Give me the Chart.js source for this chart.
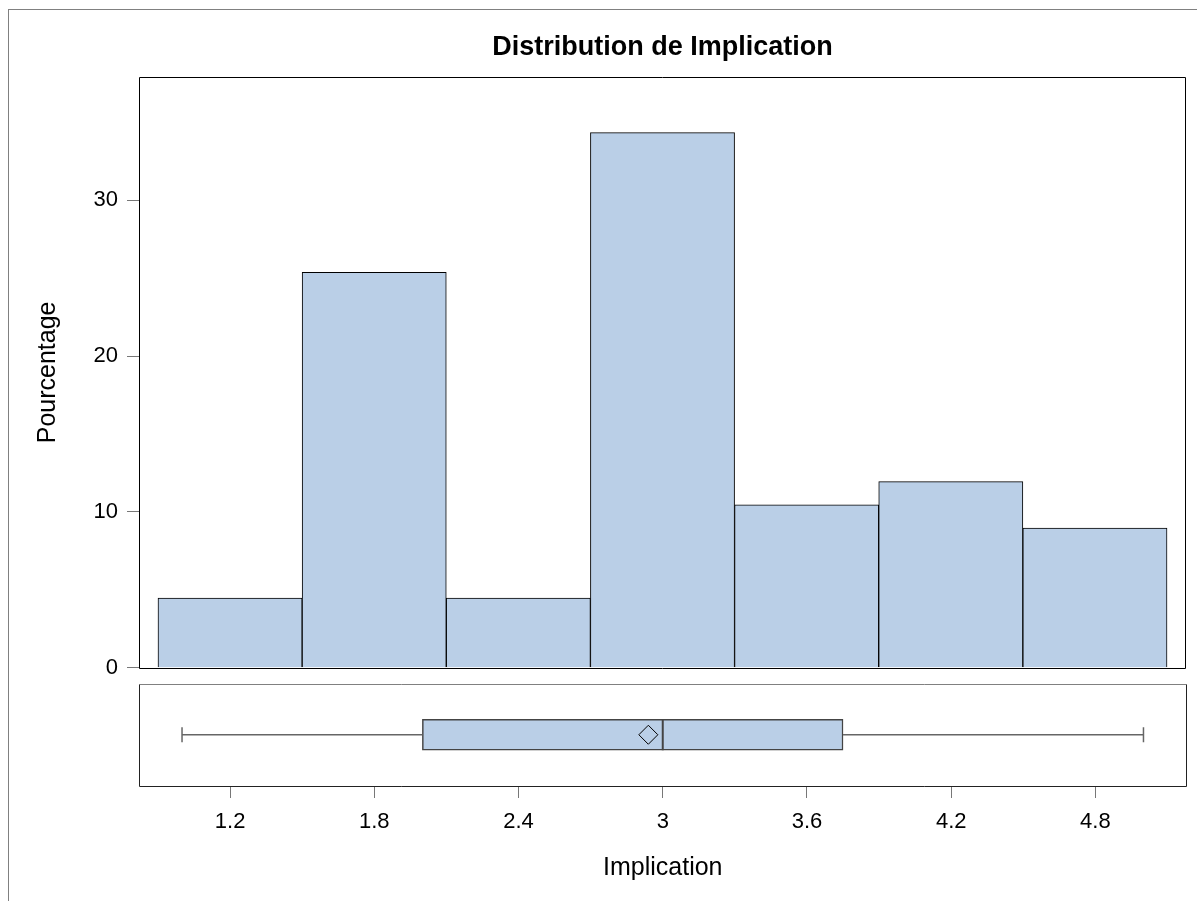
<!DOCTYPE html>
<html>
<head>
<meta charset="utf-8">
<script src="https://cdn.jsdelivr.net/npm/chart.js@4"></script>
<style>
  body { margin: 0; background: #fff; }
  #wrap { position: relative; width: 1197px; height: 901px; background: #fff; overflow: hidden; }
  #edge { position: absolute; left: 8px; top: 9px; right: 0; bottom: 0; border-top: 1px solid #808080; border-left: 1px solid #808080; }
  canvas { position: absolute; left: 0; }
  #hist { top: 0; }
  #box { top: 666px; }
</style>
</head>
<body>
<div id="wrap">
  <div id="edge"></div>
  <canvas id="hist" width="1197" height="690"></canvas>
  <canvas id="box" width="1204" height="235"></canvas>
</div>
<script>
// Histogram data (percent per bin, bins of width 0.6)
const BIN_MIDPOINTS = [1.2, 1.8, 2.4, 3.0, 3.6, 4.2, 4.8];
const PERCENTS = [4.48, 25.37, 4.48, 34.33, 10.45, 11.94, 8.96];
const Y_TICKS = [0, 10, 20, 30];
const X_TICKS = [1.2, 1.8, 2.4, 3, 3.6, 4.2, 4.8];

// Box plot: whisker low, Q1, median, Q3, whisker high, and mean
const BOX_FIVE = [1.0, 2.0, 3.0, 3.75, 5.0];
const BOX_MEAN = 2.94;

const X_MIN = 0.821, X_MAX = 5.179, Y_MAX = 37.9;

const TITLE = 'Distribution de Implication';
const FONT = '"Liberation Sans", Arial, sans-serif';
const FILL = '#BACFE7';

// frame around the plot area
const framePlugin = {
  id: 'frame',
  afterDraw(chart, args, opts) {
    const { left, top, right, bottom } = chart.chartArea;
    const ctx = chart.ctx;
    const l = Math.round(left) + 0.5, t = Math.round(top) + 0.5;
    const r = Math.round(right) - 0.5, b = Math.round(bottom) + 0.5;
    ctx.save();
    ctx.lineWidth = 1;
    ctx.strokeStyle = opts.topColor || '#000';
    ctx.beginPath(); ctx.moveTo(l, t); ctx.lineTo(r, t); ctx.stroke();
    ctx.strokeStyle = opts.color || '#000';
    ctx.beginPath();
    ctx.moveTo(l, t); ctx.lineTo(l, b); ctx.lineTo(r, b); ctx.lineTo(r, t);
    ctx.stroke();
    if (opts.title) {
      // title centred over the plot area, not the whole canvas
      ctx.fillStyle = '#000';
      ctx.font = 'bold 27px ' + FONT;
      ctx.textAlign = 'center';
      ctx.textBaseline = 'middle';
      ctx.fillText(opts.title, (left + right) / 2, 48);
    }
    ctx.restore();
  }
};

// Histogram
new Chart(document.getElementById('hist'), {
  type: 'bar',
  data: {
    datasets: [{
      data: BIN_MIDPOINTS.map((x, i) => ({ x: x, y: PERCENTS[i] })),
      backgroundColor: FILL,
      borderColor: '#000',
      borderWidth: 1,
      categoryPercentage: 1,
      barPercentage: 1
    }]
  },
  options: {
    responsive: false,
    animation: false,
    events: [],
    layout: { padding: { left: 0, right: 11, top: 77, bottom: 0 } },
    plugins: {
      legend: { display: false },
      tooltip: { enabled: false },
      title: { display: false },
      frame: { color: '#000', topColor: '#000', title: TITLE }
    },
    scales: {
      x: {
        type: 'linear',
        display: false,
        offset: false,
        grid: { offset: false },
        min: X_MIN,
        max: X_MAX,
        afterBuildTicks: s => { s.ticks = X_TICKS.map(v => ({ value: v })); }
      },
      y: {
        min: 0,
        max: Y_MAX,
        afterBuildTicks: s => { s.ticks = Y_TICKS.map(v => ({ value: v })); },
        afterFit: s => { s.width = 139; },
        border: { display: false },
        grid: { drawOnChartArea: false, drawTicks: true, tickLength: 12, color: '#777' },
        ticks: { color: '#000', padding: 9, font: { family: FONT, size: 22 } },
        title: {
          display: true,
          text: 'Pourcentage',
          color: '#000',
          font: { family: FONT, size: 25 },
          padding: { top: 33, bottom: 33 }
        }
      }
    }
  },
  plugins: [framePlugin]
});

// Box plot
const boxY = 0;
new Chart(document.getElementById('box'), {
  type: 'bar',
  data: {
    datasets: [
      {
        type: 'scatter',
        order: 0,
        data: [{ x: BOX_MEAN, y: boxY }],
        pointStyle: 'rectRot',
        pointRadius: 9.5,
        backgroundColor: 'rgba(0,0,0,0)',
        borderColor: '#000',
        borderWidth: 1
      },
      {
        type: 'scatter',
        order: 1,
        data: [{ x: BOX_FIVE[2], y: boxY }],
        pointStyle: 'line',
        rotation: 90,
        pointRadius: 15.5,
        borderColor: '#444',
        borderWidth: 2
      },
      {
        type: 'scatter',
        order: 2,
        data: [{ x: BOX_FIVE[0], y: boxY }, { x: BOX_FIVE[4], y: boxY }],
        pointStyle: 'line',
        rotation: 90,
        pointRadius: 7.5,
        borderColor: '#666',
        borderWidth: 1.5
      },
      {
        type: 'line',
        order: 3,
        data: [{ x: BOX_FIVE[0], y: boxY }, { x: BOX_FIVE[1], y: boxY }],
        pointRadius: 0,
        borderColor: '#666',
        borderWidth: 1.5
      },
      {
        type: 'line',
        order: 3,
        data: [{ x: BOX_FIVE[3], y: boxY }, { x: BOX_FIVE[4], y: boxY }],
        pointRadius: 0,
        borderColor: '#666',
        borderWidth: 1.5
      },
      {
        type: 'bar',
        order: 5,
        indexAxis: 'y',
        data: [{ x: [BOX_FIVE[1], BOX_FIVE[3]], y: boxY }],
        backgroundColor: FILL,
        borderColor: '#444',
        borderWidth: 1.5,
        borderSkipped: false,
        barThickness: 31
      }
    ]
  },
  options: {
    responsive: false,
    animation: false,
    events: [],
    layout: { padding: { left: 139, right: 0, top: 0, bottom: 0 } },
    plugins: {
      legend: { display: false },
      tooltip: { enabled: false },
      frame: { color: '#222', topColor: '#808080' }
    },
    scales: {
      x: {
        type: 'linear',
        offset: false,
        min: X_MIN,
        max: X_MAX,
        afterBuildTicks: s => { s.ticks = X_TICKS.map(v => ({ value: v })); },
        afterFit: s => { s.height = 115; },
        border: { display: false },
        grid: { offset: false, drawOnChartArea: false, drawTicks: true, tickLength: 12, color: '#777' },
        ticks: { color: '#000', padding: 11, maxRotation: 0, font: { family: FONT, size: 22 }, callback: v => String(v) },
        title: {
          display: true,
          text: 'Implication',
          color: '#000',
          font: { family: FONT, size: 25 },
          padding: { top: 10, bottom: 18 }
        }
      },
      y: {
        type: 'linear',
        display: false,
        offset: false,
        min: -1,
        max: 1
      }
    }
  },
  plugins: [framePlugin]
});
</script>
</body>
</html>
